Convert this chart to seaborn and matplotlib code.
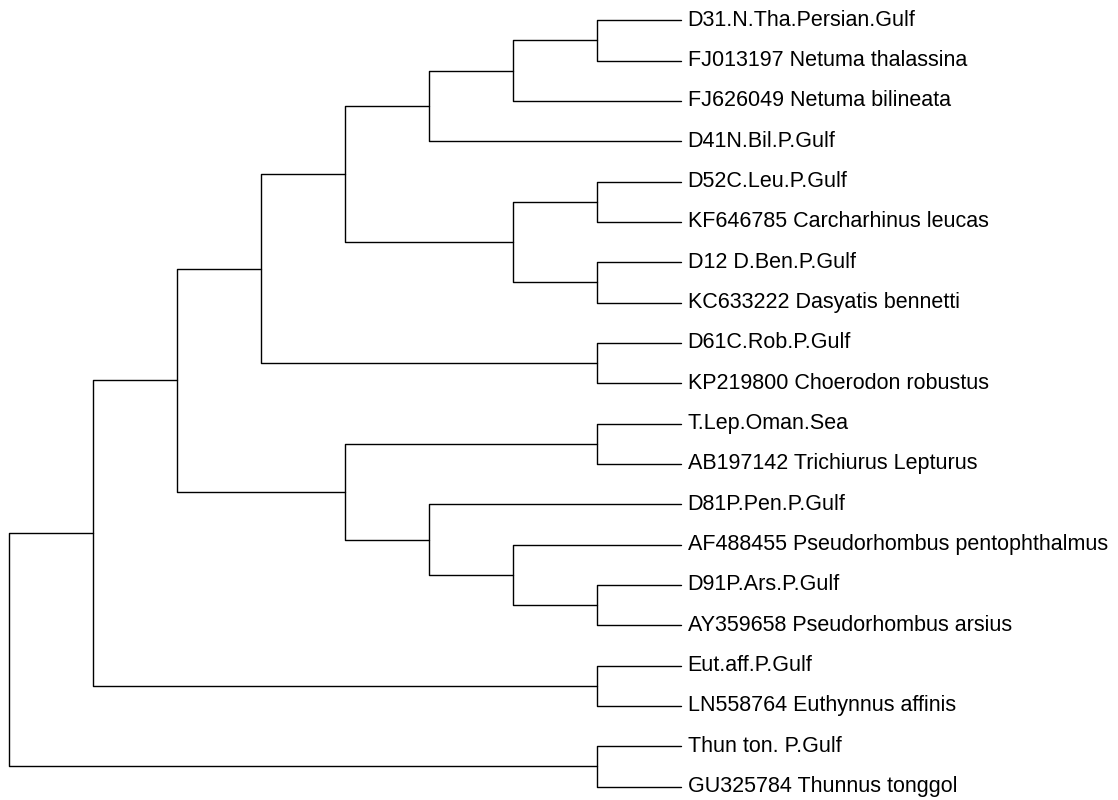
import seaborn as sns
import pandas as pd
import matplotlib.pyplot as plt

leaf_labels = [
    "D31.N.Tha.Persian.Gulf",
    "FJ013197 Netuma thalassina",
    "FJ626049 Netuma bilineata",
    "D41N.Bil.P.Gulf",
    "D52C.Leu.P.Gulf",
    "KF646785 Carcharhinus leucas",
    "D12 D.Ben.P.Gulf",
    "KC633222 Dasyatis bennetti",
    "D61C.Rob.P.Gulf",
    "KP219800 Choerodon robustus",
    "T.Lep.Oman.Sea",
    "AB197142 Trichiurus Lepturus",
    "D81P.Pen.P.Gulf",
    "AF488455 Pseudorhombus pentophthalmus",
    "D91P.Ars.P.Gulf",
    "AY359658 Pseudorhombus arsius",
    "Eut.aff.P.Gulf",
    "LN558764 Euthynnus affinis",
    "Thun ton. P.Gulf",
    "GU325784 Thunnus tonggol",
]
leaf_depth = 8

# merges: (child a, child b) -> new node id 20, 21, ...
merge_a = [0, 20, 21, 4, 6, 23, 22, 8, 26, 10, 14, 13, 12, 29, 28, 16, 34, 18, 36]
merge_b = [1, 2, 3, 5, 7, 24, 25, 9, 27, 11, 15, 30, 31, 32, 33, 17, 35, 19, 37]
merge_depth = [7, 6, 5, 7, 7, 6, 4, 7, 3, 7, 7, 6, 5, 4, 2, 7, 1, 7, 0]

n = len(leaf_labels)
pos_x = {i: leaf_depth for i in range(n)}
pos_y = {i: i + 1 for i in range(n)}

rows = []
for k, (a, b, d) in enumerate(zip(merge_a, merge_b, merge_depth)):
    node = n + k
    pos_x[node] = d
    pos_y[node] = (pos_y[a] + pos_y[b]) / 2
    pts = [(pos_x[a], pos_y[a]), (d, pos_y[a]), (d, pos_y[b]), (pos_x[b], pos_y[b])]
    for j, (x, y) in enumerate(pts):
        rows.append({"seg": node, "order": j, "x": x, "y": y})
df = pd.DataFrame(rows)

sns.set_style("white")
plt.rcParams['font.family'] = ['Liberation Sans', 'DejaVu Sans']

fig = plt.figure(figsize=(11.18, 8), dpi=100)
ax = fig.add_axes([0, 0, 1, 1])

sns.lineplot(data=df, x="x", y="y", units="seg", estimator=None, sort=False,
             color="black", linewidth=1.0, ax=ax, legend=False)

for i, lab in enumerate(leaf_labels):
    ax.text(leaf_depth + 0.08, i + 1, lab, fontsize=15.5, va="center", ha="left",
            color="black")

ax.set_xlim(-9 / 84, (1118 - 9) / 84)
ax.set_ylim(1 + (800 - 20.3) / 40.33, 1 - 20.3 / 40.33)
ax.axis("off")

plt.savefig("out.png", dpi=100)
